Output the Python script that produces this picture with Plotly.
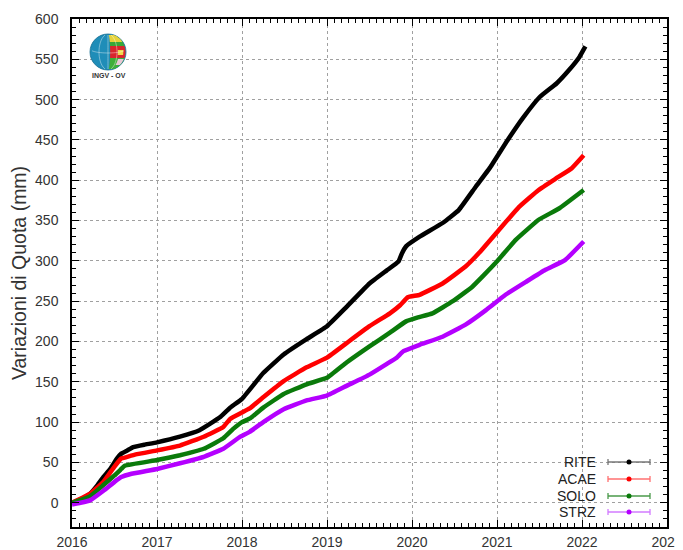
import numpy as np
import plotly.graph_objects as go

# ---------------- data ----------------
rite_t = [2016.0, 2016.1, 2016.21, 2016.3, 2016.37, 2016.45, 2016.53, 2016.58, 2016.65, 2016.72,
          2016.85, 2017.0, 2017.27, 2017.5, 2017.74, 2017.86, 2018.0, 2018.25, 2018.49, 2018.76,
          2019.0, 2019.23, 2019.5, 2019.7, 2019.84, 2019.88, 2019.93, 2020.09, 2020.36, 2020.55,
          2020.75, 2020.92, 2021.12, 2021.31, 2021.5, 2021.7, 2021.85, 2021.97, 2022.04]
rite_v = [0, 4, 11, 22, 32, 42, 55, 61, 65, 69,
          72, 75, 82, 90, 106, 118, 129, 161, 184, 203,
          219, 243, 272, 288, 299, 309, 318, 330, 347, 363,
          392, 416, 449, 478, 503, 520, 537, 553, 566]

acae_t = [2016.0, 2016.21, 2016.37, 2016.5, 2016.58, 2016.62, 2016.75, 2017.0, 2017.27, 2017.55,
          2017.78, 2017.86, 2018.0, 2018.09, 2018.25, 2018.49, 2018.76, 2019.0, 2019.23, 2019.5,
          2019.74, 2019.86, 2019.95, 2020.09, 2020.36, 2020.63, 2020.79, 2021.02, 2021.26, 2021.49,
          2021.69, 2021.88, 2022.02]
acae_v = [0, 11, 26, 45, 55, 56, 60, 65, 71, 82,
          94, 104, 112, 117, 131, 151, 168, 180, 198, 219,
          235, 245, 255, 258, 272, 293, 310, 338, 367, 388,
          402, 415, 431]

solo_t = [2016.0, 2016.21, 2016.37, 2016.5, 2016.58, 2016.62, 2017.0, 2017.27, 2017.55, 2017.78,
          2017.9, 2018.0, 2018.1, 2018.25, 2018.49, 2018.76, 2019.0, 2019.23, 2019.5, 2019.74,
          2019.93, 2020.07, 2020.24, 2020.48, 2020.71, 2020.98, 2021.22, 2021.49, 2021.73, 2022.02]
solo_v = [0, 8, 22, 34, 42, 46, 53, 59, 67, 80,
          92, 100, 105, 118, 135, 147, 155, 174, 194, 211,
          225, 230, 235, 250, 268, 297, 326, 351, 365, 388]

strz_t = [2016.0, 2016.1, 2016.21, 2016.37, 2016.5, 2016.58, 2016.7, 2017.0, 2017.27, 2017.55,
          2017.78, 2017.98, 2018.09, 2018.25, 2018.49, 2018.76, 2019.0, 2019.23, 2019.5, 2019.7,
          2019.82, 2019.9, 2020.09, 2020.36, 2020.63, 2020.87, 2021.1, 2021.34, 2021.57, 2021.8,
          2022.02]
strz_v = [-2, 0, 3, 15, 26, 32, 36, 42, 49, 57,
          67, 82, 88, 100, 116, 127, 133, 145, 159, 172,
          180, 188, 196, 206, 221, 239, 258, 274, 289, 301,
          324]

names = ["RITE", "ACAE", "SOLO", "STRZ"]
colors = ["#000000", "#ff0000", "#0a7a0a", "#b400ff"]
bar_colors = ["#777777", "#ff7070", "#4a9a4a", "#d27bff"]
year_ticks = [2016, 2017, 2018, 2019, 2020, 2021, 2022, 2023]
y_ticks = list(range(0, 601, 50))

# ---------------- layout geometry ----------------
# the page body has an 8px margin, so the figure sits 8px right/down in the window
OFF = 8
W, H = 683, 550
PLOT_L, PLOT_R, PLOT_T, PLOT_B = 72, 667, 19, 527          # window pixels of the frame
L, T = PLOT_L - OFF, PLOT_T - OFF
R, B = W - (PLOT_R - OFF), H - (PLOT_B - OFF)
PW, PH = W - L - R, H - T - B


def px(x):
    return (x - OFF - L) / PW


def py(y):
    return (H - B - (y - OFF)) / PH


fig = go.Figure()
series = [(rite_t, rite_v), (acae_t, acae_v), (solo_t, solo_v), (strz_t, strz_v)]
for (t, v), n, c in zip(series, names, colors):
    fig.add_trace(go.Scatter(x=t, y=v, mode="lines", name=n,
                             line=dict(color=c, width=4.5, shape="spline", smoothing=0.3),
                             showlegend=False, hoverinfo="skip"))

shapes = []
annotations = []

# ---------------- custom legend (text then error-bar symbol) ----------------
leg_y = [462, 479, 496, 512]
for n, c, bc, yy in zip(names, colors, bar_colors, leg_y):
    annotations.append(dict(x=px(597), y=py(yy), xref="paper", yref="paper", text=n,
                            showarrow=False, xanchor="right", yanchor="middle", borderpad=0,
                            font=dict(family="Liberation Sans, Arial", size=14, color="#222")))
    shapes.append(dict(type="line", xref="paper", yref="paper", x0=px(608), x1=px(650),
                       y0=py(yy), y1=py(yy), line=dict(color=bc, width=1.3)))
    for xc in (608, 650):
        shapes.append(dict(type="line", xref="paper", yref="paper", x0=px(xc), x1=px(xc),
                           y0=py(yy - 3), y1=py(yy + 3), line=dict(color=bc, width=1.3)))
    shapes.append(dict(type="circle", xref="paper", yref="paper", x0=px(626.5), x1=px(631.5),
                       y0=py(yy + 2.5), y1=py(yy - 2.5), fillcolor=c, line=dict(width=0)))

# ---------------- logo (INGV - OV globe) ----------------
cx, cy, r = 108, 52, 18


def poly(points):
    return "M " + " L ".join(f"{px(a):.5f},{py(b):.5f}" for a, b in points) + " Z"


shapes.append(dict(type="circle", xref="paper", yref="paper", x0=px(cx - r), x1=px(cx + r),
                   y0=py(cy + r), y1=py(cy - r), fillcolor="#1f8db8",
                   line=dict(color="#166f92", width=0.8)))


def band(y0, y1, frac_l, frac_r=0.97):
    ys = np.linspace(y0, y1, 14)
    left = [(cx + frac_l * r * np.sqrt(max(0, 1 - ((yy - cy) / r) ** 2)), yy) for yy in ys]
    right = [(cx + frac_r * r * np.sqrt(max(0, 1 - ((yy - cy) / r) ** 2)), yy) for yy in ys[::-1]]
    return poly(left + right)


for (y0, y1, fl, col) in [(cy - r + 1, cy - 10, 0.12, "#e6d23a"), (cy - 10, cy - 6, 0.12, "#38a838"),
                          (cy - 6, cy + 6, 0.12, "#d8262c"), (cy + 6, cy + r - 1, 0.12, "#3fae3a")]:
    shapes.append(dict(type="path", xref="paper", yref="paper", path=band(y0, y1, fl),
                       fillcolor=col, line=dict(width=0)))
shapes.append(dict(type="path", xref="paper", yref="paper", path=band(cy - 2, cy + 3, 0.55, 0.85),
                   fillcolor="#f0d84a", line=dict(width=0)))
shapes.append(dict(type="path", xref="paper", yref="paper", path=band(cy + 7, cy + 13, 0.6, 0.95),
                   fillcolor="#e9c7d6", line=dict(width=0)))
for frac in (-0.5, 0.0, 0.5):
    ys = np.linspace(cy - r + 1, cy + r - 1, 20)
    pts = [(cx + frac * r * np.sqrt(max(0, 1 - ((yy - cy) / r) ** 2)), yy) for yy in ys]
    path = "M " + " L ".join(f"{px(a):.5f},{py(b):.5f}" for a, b in pts)
    shapes.append(dict(type="path", xref="paper", yref="paper", path=path,
                       line=dict(color="rgba(255,255,255,0.5)", width=0.8)))
xs = np.linspace(cx - r + 2, cx + r - 2, 16)
pts = [(xx, cy - 3 + 4 * np.sqrt(max(0, 1 - ((xx - cx) / r) ** 2))) for xx in xs]
shapes.append(dict(type="path", xref="paper", yref="paper",
                   path="M " + " L ".join(f"{px(a):.5f},{py(b):.5f}" for a, b in pts),
                   line=dict(color="rgba(255,255,255,0.5)", width=0.8)))
annotations.append(dict(x=px(109), y=py(75), xref="paper", yref="paper", text="<b>INGV - OV</b>",
                        showarrow=False, xanchor="center", yanchor="middle",
                        font=dict(family="Liberation Sans, Arial", size=7, color="#333")))

axis_common = dict(showline=True, linecolor="black", linewidth=1.5, mirror="allticks",
                   ticks="inside", ticklen=7, tickcolor="black", tickwidth=1.3,
                   showgrid=True, gridcolor="#a0a0a0", griddash="dot", gridwidth=1,
                   zeroline=False, automargin=False,
                   tickfont=dict(family="Liberation Sans, Arial", size=14, color="#333"))

fig.update_layout(
    width=W, height=H,
    margin=dict(l=L, r=R, t=T, b=B),
    paper_bgcolor="white", plot_bgcolor="white",
    shapes=shapes, annotations=annotations,
    xaxis=dict(range=[2016, 2023], tickvals=year_ticks, ticktext=[str(v) for v in year_ticks],
               minor=dict(dtick=1 / 12, tick0=2016, ticks="inside", ticklen=4, tickcolor="black",
                          showgrid=False),
               ticklabelstandoff=1, **axis_common),
    yaxis=dict(range=[-30, 600], tickvals=y_ticks, ticktext=[str(v) for v in y_ticks],
               minor=dict(dtick=10, tick0=0, ticks="inside", ticklen=4, tickcolor="black",
                          showgrid=False),
               ticklabelstandoff=9,
               title=dict(text="Variazioni di Quota (mm)", standoff=24,
                          font=dict(family="Liberation Sans, Arial", size=19.5, color="#333")),
               **axis_common),
)

fig.write_html("out.html")
